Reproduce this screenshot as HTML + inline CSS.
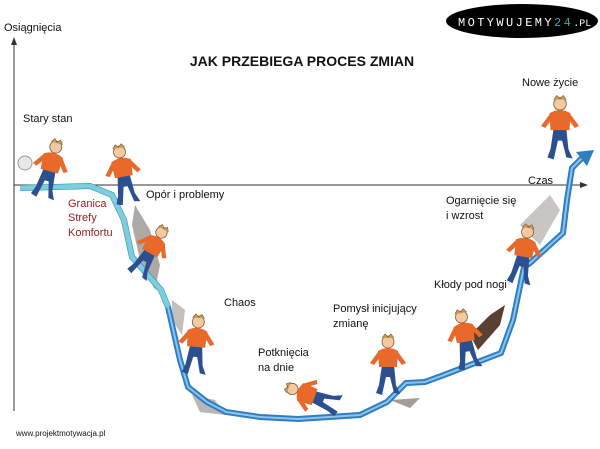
<!DOCTYPE html>
<html><head><meta charset="utf-8"><style>
html,body{margin:0;padding:0;background:#fff;width:600px;height:449px;overflow:hidden}
svg{display:block}
text{font-family:"Liberation Sans",sans-serif;fill:#111}
</style></head><body>
<svg width="600" height="449" viewBox="0 0 600 449" xmlns="http://www.w3.org/2000/svg">
<defs>
<g id="fig">
  <path d="M-6,20 L-9,40 L-12,48 L-6,50 L-2,32 L2,32 L6,48 L12,49 L8,40 L6,20 Z" fill="#2c4f8f"/>
  <path d="M-10,6 Q0,0 10,6 L9,22 L-9,22 Z" fill="#e8692a"/>
  <path d="M-10,7 L-18,18 L-14,20 L-8,12 Z M10,7 L18,18 L14,20 L8,12 Z" fill="#e8692a"/>
  <circle cx="0" cy="-3" r="6" fill="#f3c9a2" stroke="#7a5a30" stroke-width="0.8"/>
  <path d="M-6,-7 L-3,-11 L0,-8 L3,-11 L6,-7" fill="#c49a55" stroke="#7a5a30" stroke-width="0.6"/>
</g>
</defs>
<!-- axes -->
<line x1="14" y1="42" x2="14" y2="411" stroke="#333" stroke-width="1"/>
<path d="M11,45 L14,37 L17,45 Z" fill="#333"/>
<line x1="14" y1="185" x2="583" y2="185" stroke="#333" stroke-width="1"/>
<path d="M580,182 L588,185 L580,188 Z" fill="#333"/>
<!-- logo -->
<ellipse cx="522" cy="21" rx="76" ry="17" fill="#000"/>
<text x="458" y="26" font-family="Liberation Mono,monospace" font-size="12" letter-spacing="2.4" style="fill:#fff;font-family:'Liberation Mono',monospace">MOTYWUJEMY<tspan style="fill:#3aa8a8">24</tspan><tspan font-size="10" letter-spacing="0">.PL</tspan></text>
<!-- rocks -->
<path d="M135,205 L150,230 L160,265 L155,290 L140,260 L132,225 Z" fill="#8a8580" opacity="0.7"/>
<path d="M172,300 L185,310 L182,335 L172,320 Z" fill="#9a9590" opacity="0.6"/>
<path d="M192,395 L215,400 L225,415 L200,412 Z" fill="#8a8580" opacity="0.6"/>
<path d="M390,400 L420,398 L410,408 Z" fill="#6a5a50" opacity="0.6"/>
<path d="M520,225 L550,195 L560,210 L540,245 Z" fill="#9a9590" opacity="0.55"/>
<path d="M478,350 L500,325 L505,305 L490,315 L470,335 Z" fill="#5a4030"/>
<circle cx="25" cy="163" r="7" fill="#e8e8e8" stroke="#999"/>
<!-- path -->
<path d="M20,188 L90,186 L112,195 L124,220 L132,257 L161,290 L168,307 L180,360 L188,387 L207,402 L226,412 L260,417 L298,419 L360,415 L387,402 L406,383 L425,382 L444,375 L501,353 L513,320 L524,267 L530,263 L563,233 L567,200 L572,168 L582,158" fill="none" stroke="#2e7ec0" stroke-width="6" stroke-linejoin="miter"/>
<path d="M20,188 L90,186 L112,195 L124,220 L132,257 L161,290 L168,307" fill="none" stroke="#6fd6c8" stroke-width="5"/>
<path d="M20,188 L90,186 L112,195 L124,220 L132,257 L161,290 L168,307 L180,360 L188,387 L207,402 L226,412 L260,417 L298,419 L360,415 L387,402 L406,383 L425,382 L444,375 L501,353 L513,320 L524,267 L530,263 L563,233 L567,200 L572,168 L582,158" fill="none" stroke="#8cc4ee" stroke-width="2"/>
<path d="M576,152 L594,150 L587,166 Z" fill="#2e7ec0"/>
<!-- figures -->
<use href="#fig" transform="translate(55,150) rotate(15)"/>
<use href="#fig" transform="translate(120,155) rotate(-10)"/>
<use href="#fig" transform="translate(160,235) rotate(30) scale(0.95)"/>
<use href="#fig" transform="translate(198,325) rotate(5)"/>
<use href="#fig" transform="translate(295,390) rotate(-70) scale(0.95)"/>
<use href="#fig" transform="translate(388,345)"/>
<use href="#fig" transform="translate(462,320) rotate(-10)"/>
<use href="#fig" transform="translate(527,235) rotate(10)"/>
<use href="#fig" transform="translate(560,107) scale(1.05)"/>
<!-- text -->
<text x="4" y="31" font-size="11">Osiągnięcia</text>
<text x="302" y="66" font-size="14" font-weight="bold" text-anchor="middle">JAK PRZEBIEGA PROCES ZMIAN</text>
<text x="522" y="86" font-size="11">Nowe życie</text>
<text x="23" y="122" font-size="11">Stary stan</text>
<text x="528" y="184" font-size="11">Czas</text>
<text x="146" y="198" font-size="11">Opór i problemy</text>
<text x="68" y="207" font-size="11" style="fill:#a02020">Granica</text>
<text x="68" y="221" font-size="11" style="fill:#a02020">Strefy</text>
<text x="68" y="236" font-size="11" style="fill:#a02020">Komfortu</text>
<text x="446" y="204" font-size="11">Ogarnięcie się</text>
<text x="446" y="219" font-size="11">i wzrost</text>
<text x="224" y="306" font-size="11">Chaos</text>
<text x="434" y="288" font-size="11">Kłody pod nogi</text>
<text x="333" y="312" font-size="11">Pomysł inicjujący</text>
<text x="333" y="327" font-size="11">zmianę</text>
<text x="258" y="356" font-size="11">Potknięcia</text>
<text x="258" y="371" font-size="11">na dnie</text>
<text x="16" y="436" font-size="8">www.projektmotywacja.pl</text>
</svg>
</body></html>
